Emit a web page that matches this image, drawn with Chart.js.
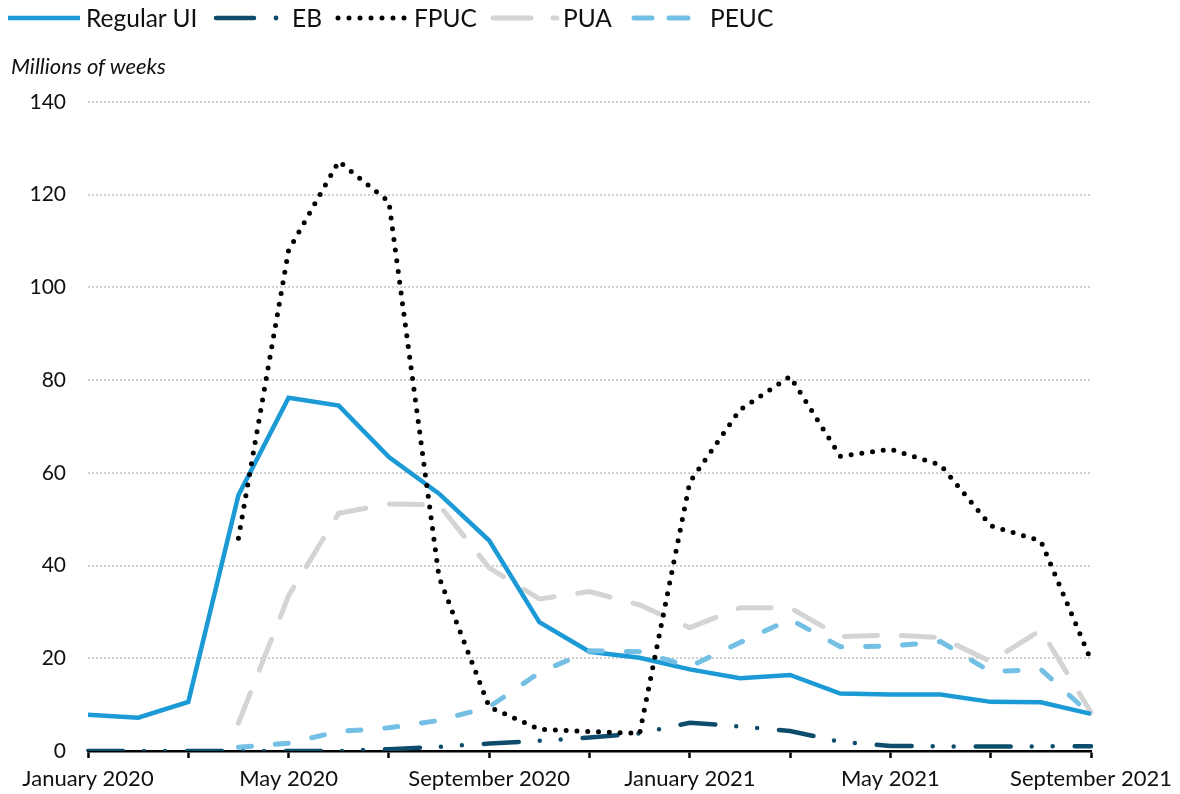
<!DOCTYPE html>
<html><head><meta charset="utf-8">
<script src="https://cdn.jsdelivr.net/npm/chart.js@4.4.1/dist/chart.umd.min.js"></script>
<style>
html,body{margin:0;padding:0;background:#fff;}
#wrap{position:relative;width:1180px;height:794px;font-family:Lato,"Open Sans",sans-serif;overflow:hidden;}
#c{position:absolute;left:0;top:0;}
#lgsvg{position:absolute;left:0;top:0;}
.lg{position:absolute;top:4px;font-size:24.5px;line-height:28px;color:#111;white-space:nowrap;}
#ytitle{position:absolute;left:11px;top:52px;font-size:22px;font-style:italic;color:#111;white-space:nowrap;}
</style></head><body>
<div id="wrap">
<canvas id="c" width="1180" height="794"></canvas>
<svg id="lgsvg" width="800" height="40">
  <line x1="8" y1="18" x2="80" y2="18" stroke="#1b9ad6" stroke-width="4.5"/>
  <line x1="216" y1="18" x2="254" y2="18" stroke="#0d4d6b" stroke-width="4.5" stroke-linecap="round"/>
  <circle cx="276" cy="18" r="2.4" fill="#0d4d6b"/>
  <line x1="338" y1="18" x2="405" y2="18" stroke="#000" stroke-width="5" stroke-linecap="round" stroke-dasharray="0 11"/>
  <line x1="493" y1="18" x2="531" y2="18" stroke="#d4d4d4" stroke-width="5" stroke-linecap="round"/>
  <line x1="553" y1="18" x2="557" y2="18" stroke="#d4d4d4" stroke-width="5" stroke-linecap="round"/>
  <line x1="634" y1="18" x2="652" y2="18" stroke="#74bfe4" stroke-width="5" stroke-linecap="round"/>
  <line x1="669" y1="18" x2="688" y2="18" stroke="#74bfe4" stroke-width="5" stroke-linecap="round"/>
</svg>
<span class="lg" style="left:86px">Regular UI</span>
<span class="lg" style="left:292px">EB</span>
<span class="lg" style="left:414px">FPUC</span>
<span class="lg" style="left:563px">PUA</span>
<span class="lg" style="left:710px">PEUC</span>
<div id="ytitle">Millions of weeks</div>
</div>
<script>
const months = ["January 2020","February 2020","March 2020","April 2020","May 2020","June 2020","July 2020","August 2020","September 2020","October 2020","November 2020","December 2020","January 2021","February 2021","March 2021","April 2021","May 2021","June 2021","July 2021","August 2021","September 2021"];
const xTickLabels = ["January 2020","","","","May 2020","","","","September 2020","","","","January 2021","","","","May 2021","","","","September 2021"];
const yTicks = [0,20,40,60,80,100,120,140];

const regularUI = [7.8,7.2,10.6,55.2,76.2,74.5,63.4,55.5,45.4,27.8,21.4,20.1,17.6,15.7,16.4,12.4,12.2,12.2,10.6,10.5,8.0];
const eb        = [0,0,0,0,0,0,0.4,0.9,1.6,2.2,2.9,3.8,6.1,5.3,4.3,2.0,1.1,1.0,0.95,1.0,1.05];
const fpuc      = [null,null,null,45.9,108,127.2,118.5,37.5,9.5,4.7,4.2,3.8,58,73.6,80.8,63.6,65.1,61.7,48.6,45.3,19.6];
const pua       = [null,null,null,6.0,33.5,51.3,53.3,53.1,39.5,32.8,34.4,31.5,26.6,30.9,30.9,24.7,25.0,24.5,19.3,26.1,8.3];
const peuc      = [null,null,null,0.8,1.7,4.2,5.0,6.6,9.5,16.9,21.6,21.4,18.2,23.4,28.4,22.5,22.6,23.6,17.1,17.6,7.8];

const FONT = 'Lato, "Open Sans", sans-serif';

new Chart(document.getElementById('c'), {
  type: 'line',
  data: {
    labels: months,
    datasets: [
      {label:'Regular UI', data: regularUI, borderColor:'#1b9ad6', borderWidth:4.5, order:3},
      {label:'EB', data: eb, borderColor:'#0d4d6b', borderWidth:4.5, borderCapStyle:'round', borderDash:[35,21,0,21,0,22], order:2},
      {label:'FPUC', data: fpuc, borderColor:'#000', borderWidth:5, borderCapStyle:'round', borderDash:[0,10.8], order:0},
      {label:'PUA', data: pua, borderColor:'#d4d4d4', borderWidth:5, borderCapStyle:'round', borderDash:[33,24], order:4},
      {label:'PEUC', data: peuc, borderColor:'#74bfe4', borderWidth:5, borderCapStyle:'round', borderDash:[13,24], order:1}
    ]
  },
  options: {
    responsive: false,
    animation: false,
    devicePixelRatio: 1,
    elements: { point: { radius: 0, hoverRadius: 0 }, line: { tension: 0, fill: false } },
    layout: { padding: { top: 102, right: 89, bottom: 0, left: 0 } },
    plugins: { legend: { display: false }, tooltip: { enabled: false } },
    scales: {
      x: {
        type: 'category',
        offset: false,
        afterFit: s => { s.height = 43; },
        ticks: {
          autoSkip: false, maxRotation: 0, minRotation: 0, padding: 8,
          color: '#111', font: { family: FONT, size: 22 },
          callback: (v, i) => xTickLabels[i]
        },
        grid: {
          drawOnChartArea: false, drawTicks: true, tickLength: 7, tickWidth: 2.5,
          tickColor: ctx => (ctx.index % 2 === 0 ? '#000' : 'rgba(0,0,0,0)')
        },
        border: { display: true, color: '#000', width: 2.5 }
      },
      y: {
        min: 0, max: 140,
        afterFit: s => { s.width = 88; },
        afterBuildTicks: s => { s.ticks = yTicks.map(v => ({ value: v })); },
        ticks: { padding: 22, color: '#111', font: { family: FONT, size: 21 } },
        grid: {
          drawTicks: false, lineWidth: 2,
          color: ctx => (ctx.tick && ctx.tick.value === 0 ? 'rgba(0,0,0,0)' : '#cfcfcf')
        },
        border: { display: false, dash: [2, 2] }
      }
    }
  }
});
</script>
</body></html>
